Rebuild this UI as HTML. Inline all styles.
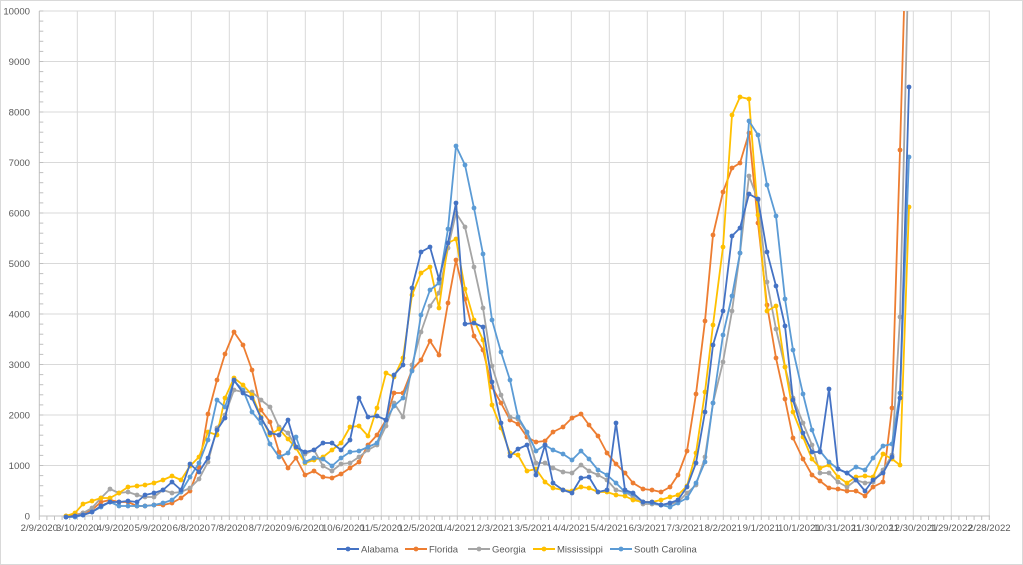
<!DOCTYPE html>
<html><head><meta charset="utf-8"><style>
html,body{margin:0;padding:0;background:#fff;}
svg{display:block;font-family:"Liberation Sans",sans-serif;}
</style></head><body>
<svg id="c" width="1023" height="565" viewBox="0 0 1023 565" xmlns="http://www.w3.org/2000/svg">
<rect x="0.5" y="0.5" width="1022" height="564" fill="#fff" stroke="#d9d9d9"/>
<g id="grid" stroke="#d9d9d9" stroke-width="1"></g>
<g id="axes" stroke="#bfbfbf" stroke-width="1"></g>
<g id="labels" font-size="9.6" fill="#595959"></g>
<defs><clipPath id="cp"><rect x="39" y="11" width="952" height="510"/></clipPath></defs>
<g id="series" clip-path="url(#cp)"></g>
<g id="legend" font-size="9.5" fill="#595959"></g>
</svg>
<script>
const NS="http://www.w3.org/2000/svg";
function el(p,t,a,txt){const e=document.createElementNS(NS,t);for(const k in a)e.setAttribute(k,a[k]);if(txt!==undefined)e.textContent=txt;p.appendChild(e);return e;}
const grid=document.getElementById('grid'),axes=document.getElementById('axes'),labels=document.getElementById('labels');
const X0=39.3,DX=38,Y0=516,K=0.0505;
for(let v=1000;v<=10000;v+=1000){const y=Y0-v*K;el(grid,'line',{x1:X0,x2:990,y1:y,y2:y});}
for(let i=1;i<=25;i++){const x=X0+i*DX;el(grid,'line',{x1:x,x2:x,y1:11,y2:516});}
el(axes,'line',{x1:X0,x2:990,y1:Y0,y2:Y0});
el(axes,'line',{x1:X0,x2:X0,y1:11,y2:Y0});
for(let v=0;v<=10000;v+=200){const y=Y0-v*K;el(axes,'line',{x1:X0,x2:X0+4,y1:y,y2:y});}
for(let i=0;i<=25*5;i++){const x=X0+i*DX/5;el(axes,'line',{x1:x,x2:x,y1:Y0,y2:Y0+4});}
for(let v=0;v<=10000;v+=1000){el(labels,'text',{x:30,y:Y0-v*K+3.5,'text-anchor':'end'},String(v));}
const xl=["2/9/2020","3/10/2020","4/9/2020","5/9/2020","6/8/2020","7/8/2020","8/7/2020","9/6/2020","10/6/2020","11/5/2020","12/5/2020","1/4/2021","2/3/2021","3/5/2021","4/4/2021","5/4/2021","6/3/2021","7/3/2021","8/2/2021","9/1/2021","10/1/2021","10/31/2021","11/30/2021","12/30/2021","1/29/2022","2/28/2022"];
xl.forEach((t,i)=>el(labels,'text',{x:X0+i*DX,y:531,'text-anchor':'middle'},t));
const S={
"#ED7D31":[[66,516],[75,515],[83,513],[92,510],[101,502],[110,500],[119,502],[128,502],[137,506],[145,506],[154,505],[163,505],[172,503],[181,498],[190,491],[199,467],[208,414],[217,380],[225,354],[234,332],[243,345],[252,370],[261,410],[270,422],[279,452],[288,468],[296,458],[305,475],[314,471],[323,477],[332,478],[341,474],[350,468],[359,462],[368,445],[377,435],[386,420],[394,393],[403,393],[412,370],[421,360],[430,341],[439,355],[448,303],[456,260],[465,299],[474,336],[483,350],[492,387],[501,403],[510,420],[518,424],[527,437],[536,442],[545,441],[553,432],[563,427],[572,418],[581,414],[589,425],[598,436],[607,453],[616,464],[625,473],[633,483],[643,489],[652,490],[661,492],[670,487],[678,475],[687,451],[696,394],[705,321],[713,235],[723,192],[732,168],[740,163],[749,133],[758,223],[767,305],[776,358],[785,399],[793,438],[803,459],[812,475],[820,481],[829,488],[838,489],[847,491],[856,491],[865,496],[873,487],[883,482],[892,408],[900,150],[906,-60]],
"#A5A5A5":[[66,517],[75,516],[83,513],[92,508],[101,498],[110,489],[119,493],[128,492],[137,495],[145,497],[154,497],[163,490],[172,493],[181,492],[190,488],[199,479],[208,462],[217,428],[225,415],[234,390],[243,392],[252,392],[261,400],[270,407],[279,427],[288,433],[296,447],[305,454],[314,450],[323,466],[332,471],[341,464],[350,463],[359,457],[368,450],[377,445],[386,426],[394,403],[403,417],[412,365],[421,332],[430,306],[439,293],[448,248],[456,213],[465,227],[474,267],[483,308],[492,366],[501,395],[510,417],[518,419],[527,433],[536,463],[545,463],[553,468],[563,472],[572,473],[581,465],[589,471],[598,475],[607,480],[616,490],[625,492],[633,497],[643,504],[652,504],[661,505],[670,504],[678,502],[687,493],[696,485],[705,457],[713,403],[723,362],[732,311],[740,253],[749,176],[758,200],[767,282],[776,329],[785,367],[793,398],[803,423],[812,445],[820,473],[829,473],[838,482],[847,487],[856,480],[865,483],[873,482],[883,470],[892,455],[900,317],[909,-60]],
"#FFC000":[[66,516],[75,513],[83,504],[92,501],[101,498],[110,498],[119,493],[128,487],[137,486],[145,485],[154,483],[163,480],[172,476],[181,480],[190,466],[199,457],[208,432],[217,435],[225,398],[234,378],[243,385],[252,395],[261,417],[270,435],[279,429],[288,439],[296,448],[305,463],[314,460],[323,457],[332,450],[341,443],[350,427],[359,426],[368,436],[377,408],[386,373],[394,377],[403,358],[412,295],[421,273],[430,267],[439,308],[448,243],[456,239],[465,289],[474,320],[483,340],[492,405],[501,428],[510,453],[518,455],[527,471],[536,469],[545,482],[553,488],[563,490],[572,491],[581,487],[589,488],[598,492],[607,492],[616,495],[625,496],[633,500],[643,502],[652,502],[661,500],[670,497],[678,495],[687,486],[696,453],[705,392],[713,325],[723,247],[732,115],[740,97],[749,99],[758,215],[767,311],[776,306],[785,367],[793,412],[803,437],[812,459],[820,468],[829,465],[838,477],[847,483],[856,477],[865,476],[873,477],[883,454],[892,459],[900,465],[909,207]],
"#5B9BD5":[[66,517],[75,517],[83,515],[92,512],[101,507],[110,502],[119,506],[128,506],[137,506],[145,506],[154,505],[163,503],[172,500],[181,492],[190,477],[199,463],[208,440],[217,400],[225,407],[234,381],[243,390],[252,412],[261,423],[270,444],[279,457],[288,453],[296,437],[305,462],[314,458],[323,459],[332,466],[341,458],[350,452],[359,451],[368,447],[377,443],[386,420],[394,406],[403,398],[412,371],[421,315],[430,290],[439,283],[448,229],[456,146],[465,165],[474,208],[483,254],[492,320],[501,352],[510,380],[518,417],[527,432],[536,451],[545,445],[553,450],[563,454],[572,460],[581,451],[589,459],[598,470],[607,475],[616,483],[625,492],[633,494],[643,502],[652,503],[661,505],[670,507],[678,503],[687,498],[696,483],[705,462],[713,403],[723,335],[732,296],[740,253],[749,121],[758,135],[767,185],[776,216],[785,299],[793,350],[803,394],[812,430],[820,451],[829,462],[838,469],[847,473],[856,467],[865,470],[873,458],[883,446],[892,444],[900,393],[909,157]],
"#4472C4":[[66,517],[75,516],[83,515],[92,512],[101,506],[110,502],[119,502],[128,501],[137,502],[145,495],[154,493],[163,490],[172,482],[181,490],[190,464],[199,472],[208,458],[217,430],[225,418],[234,380],[243,393],[252,398],[261,418],[270,433],[279,435],[288,420],[296,447],[305,452],[314,450],[323,443],[332,443],[341,450],[350,440],[359,398],[368,417],[377,416],[386,420],[394,375],[403,365],[412,288],[421,252],[430,247],[439,279],[448,243],[456,203],[465,324],[474,323],[483,327],[492,382],[501,423],[510,456],[518,449],[527,445],[536,475],[545,445],[553,483],[563,490],[572,493],[581,478],[589,477],[598,492],[607,490],[616,423],[625,490],[633,493],[643,502],[652,502],[661,505],[670,503],[678,500],[687,487],[696,463],[705,412],[713,345],[723,311],[732,236],[740,228],[749,194],[758,199],[767,252],[776,286],[785,326],[793,400],[803,433],[812,452],[820,452],[829,389],[838,469],[847,473],[856,480],[865,491],[873,480],[883,473],[892,457],[900,398],[909,87]]
};
const sg=document.getElementById('series');
for(const c in S){const pts=S[c];
 el(sg,'polyline',{points:pts.map(p=>p.join(',')).join(' '),fill:'none',stroke:c,'stroke-width':1.8,'stroke-linejoin':'round'});
 pts.forEach(p=>{if(p[1]>=0)el(sg,'circle',{cx:p[0],cy:p[1],r:2.4,fill:c});});
}
const lg=document.getElementById('legend');
[["#4472C4",337,"Alabama"],["#ED7D31",405,"Florida"],["#A5A5A5",468,"Georgia"],["#FFC000",533,"Mississippi"],["#5B9BD5",610,"South Carolina"]].forEach(([c,x,t])=>{
 el(lg,'line',{x1:x,x2:x+22,y1:549,y2:549,stroke:c,'stroke-width':2});
 el(lg,'circle',{cx:x+11,cy:549,r:2.4,fill:c});
 el(lg,'text',{x:x+24,y:552.5},t);
});
</script>
</body></html>
